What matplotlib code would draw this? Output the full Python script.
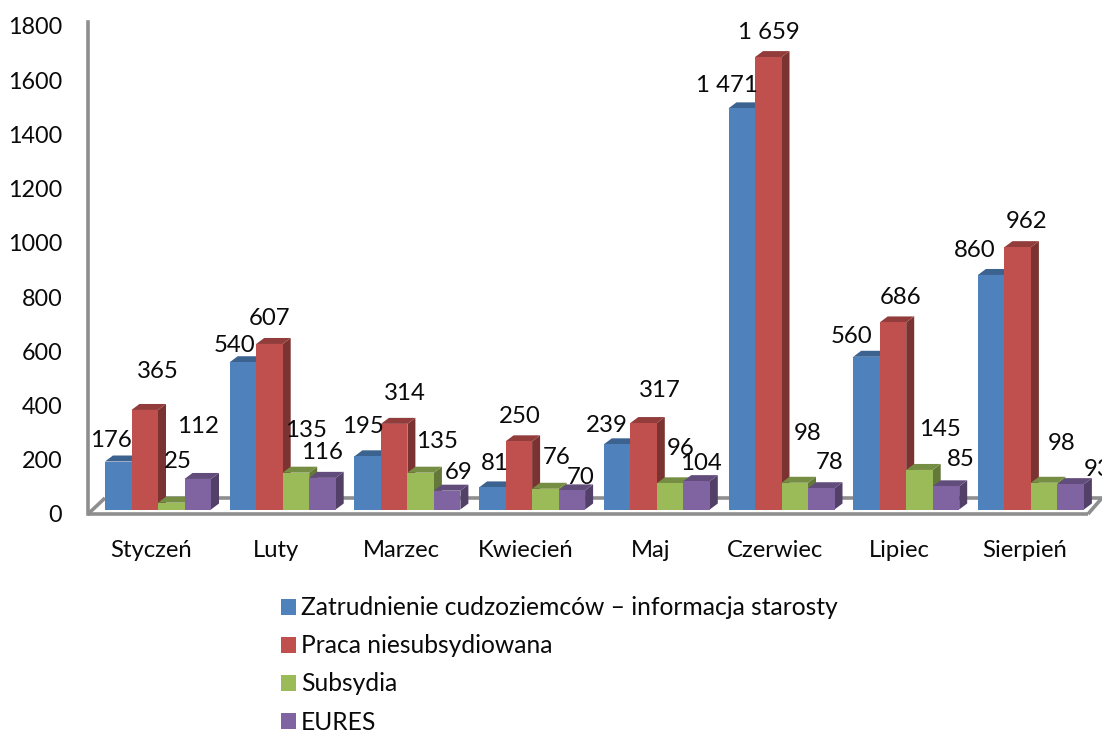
import matplotlib
matplotlib.use("Agg")
import matplotlib.pyplot as plt
from matplotlib.patches import Polygon, Patch
from matplotlib.colors import to_rgb
from matplotlib.transforms import ScaledTranslation

plt.rcParams['font.family'] = ['Lato', 'DejaVu Sans']

months = ["Styczeń", "Luty", "Marzec", "Kwiecień", "Maj", "Czerwiec", "Lipiec", "Sierpień"]
series_names = ["Zatrudnienie cudzoziemców – informacja starosty",
                "Praca niesubsydiowana", "Subsydia", "EURES"]
zatrudnienie = [176, 540, 195, 81, 239, 1471, 560, 860]
praca = [365, 607, 314, 250, 317, 1659, 686, 962]
subsydia = [25, 135, 135, 76, 96, 98, 145, 98]
eures = [112, 116, 69, 70, 104, 78, 85, 93]
yticks = [0, 200, 400, 600, 800, 1000, 1200, 1400, 1600, 1800]

# hand placement of the data labels, in pixels from the top centre of each bar
offs_z = [(-7, -23), (-8, -19), (-5, -32), (2, -26), (-10, -21), (-15, -25), (-15, -22), (-16, -26)]
offs_p = [(13, -40), (0, -27), (11, -32), (1, -27), (16, -35), (1, -27), (8, -27), (9, -28)]
offs_s = [(7, -43), (10, -44), (16, -33), (11, -33), (11, -37), (13, -51), (20, -42), (17, -41)]
offs_e = [(0, -54), (0, -27), (11, -20), (9, -15), (4, -20), (8, -28), (15, -29), (27, -17)]

colors = ["#4F81BD", "#C0504D", "#9BBB59", "#8064A2"]
W, H = 1102, 731
GRAY = "#8E8E8E"
TEXT = "#0A0A0A"

# pixel layout
AX_L, AX_R = 88, 1102
BASE = 509.5
PX_PER_UNIT = 0.2727
GROUP_PX = 124.7
FIRST_CENTER = 158.0
BAR_PX = 26.5
DX, DY = 8, 6

fig = plt.figure(figsize=(W / 100, H / 100), dpi=100)
ax = fig.add_axes([AX_L / W, (H - BASE) / H, (AX_R - AX_L) / W, BASE / H])
ax.set_xlim((AX_L - FIRST_CENTER) / GROUP_PX, (AX_R - FIRST_CENTER) / GROUP_PX)
ax.set_ylim(0, BASE / PX_PER_UNIT)
ax.patch.set_alpha(0)
for s in ax.spines.values():
    s.set_visible(False)
ax.set_yticks([])
ax.set_xticks(range(len(months)))
ax.set_xticklabels(months, fontsize=17.2, color=TEXT)
ax.tick_params(axis='x', length=0, pad=22)
shift = ScaledTranslation(-6.5 / 100, 0, fig.dpi_scale_trans)
for lab in ax.get_xticklabels():
    lab.set_transform(lab.get_transform() + shift)

px = lambda p: p / GROUP_PX
py = lambda p: p / PX_PER_UNIT

# floor of the 3-D frame
x0 = ax.get_xlim()[0]
back_y, front_y = py(BASE - 498), py(BASE - 514)
end_x = x0 + px(1000)
floor_kw = dict(color=GRAY, lw=2.6, clip_on=False, zorder=1, solid_capstyle='butt')
ax.plot([x0 + px(17), x0 + px(1014)], [back_y, back_y], **floor_kw)
ax.plot([x0, end_x], [front_y, front_y], **floor_kw)
ax.plot([x0, x0 + px(17)], [front_y, back_y], **floor_kw)
ax.plot([end_x, x0 + px(1014)], [front_y, back_y], **floor_kw)


def shade(c, f):
    return tuple(v * f for v in to_rgb(c))


all_series = [zatrudnienie, praca, subsydia, eures]
all_offs = [offs_z, offs_p, offs_s, offs_e]
bw = px(BAR_PX)
z = 3
for k, vals in enumerate(all_series):
    col = colors[k]
    for i, v in enumerate(vals):
        xc = i + (k - 1.5) * bw
        l, r = xc - bw / 2, xc + bw / 2
        dx, dy = px(DX), py(DY)
        ax.add_patch(Polygon([(r, 0), (r + dx, dy), (r + dx, v + dy), (r, v)],
                             fc=shade(col, 0.64), ec='none', zorder=z, clip_on=False))
        ax.add_patch(Polygon([(l, v), (l + dx, v + dy), (r + dx, v + dy), (r, v)],
                             fc=shade(col, 0.76), ec='none', zorder=z, clip_on=False))
        ax.bar(xc, v, width=bw, color=col, zorder=z + 0.1, linewidth=0)
    z += 1

for k, (vals, offs) in enumerate(zip(all_series, all_offs)):
    for i, v in enumerate(vals):
        xc = i + (k - 1.5) * bw
        ax.annotate(f"{v:,}".replace(",", " "), (xc, v),
                    xytext=(offs[i][0] * 0.72, -(offs[i][1] + 2) * 0.72),
                    textcoords='offset points', ha='center', va='center',
                    fontsize=17.3, color=TEXT, zorder=20, annotation_clip=False)

# value axis, printed on its own scale as in the reference
ay = fig.add_axes([AX_L / W, (H - 514) / H, 0.001, (514 - 22) / H])
ay.set_ylim(0, 492 / (488 / 1800))
ay.set_yticks(yticks)
ay.set_yticklabels([str(t) for t in yticks], fontsize=16.8, color=TEXT)
ay.set_xticks([])
ay.tick_params(axis='y', length=0, pad=18.5)
for n, s in ay.spines.items():
    s.set_visible(n == 'left')
ay.spines['left'].set_color(GRAY)
ay.spines['left'].set_linewidth(2.6)
ay.patch.set_alpha(0)

handles = [Patch(fc=c, ec='none') for c in colors]
leg = fig.legend(handles, series_names, loc='upper left',
                 bbox_to_anchor=(273.7 / W, 1 - 589 / H), frameon=False, fontsize=17.75,
                 handlelength=0.6, handleheight=0.6, handletextpad=0.2,
                 labelspacing=0.61, labelcolor=TEXT, borderpad=0.3, borderaxespad=0)

fig.savefig("out.png", dpi=100)
